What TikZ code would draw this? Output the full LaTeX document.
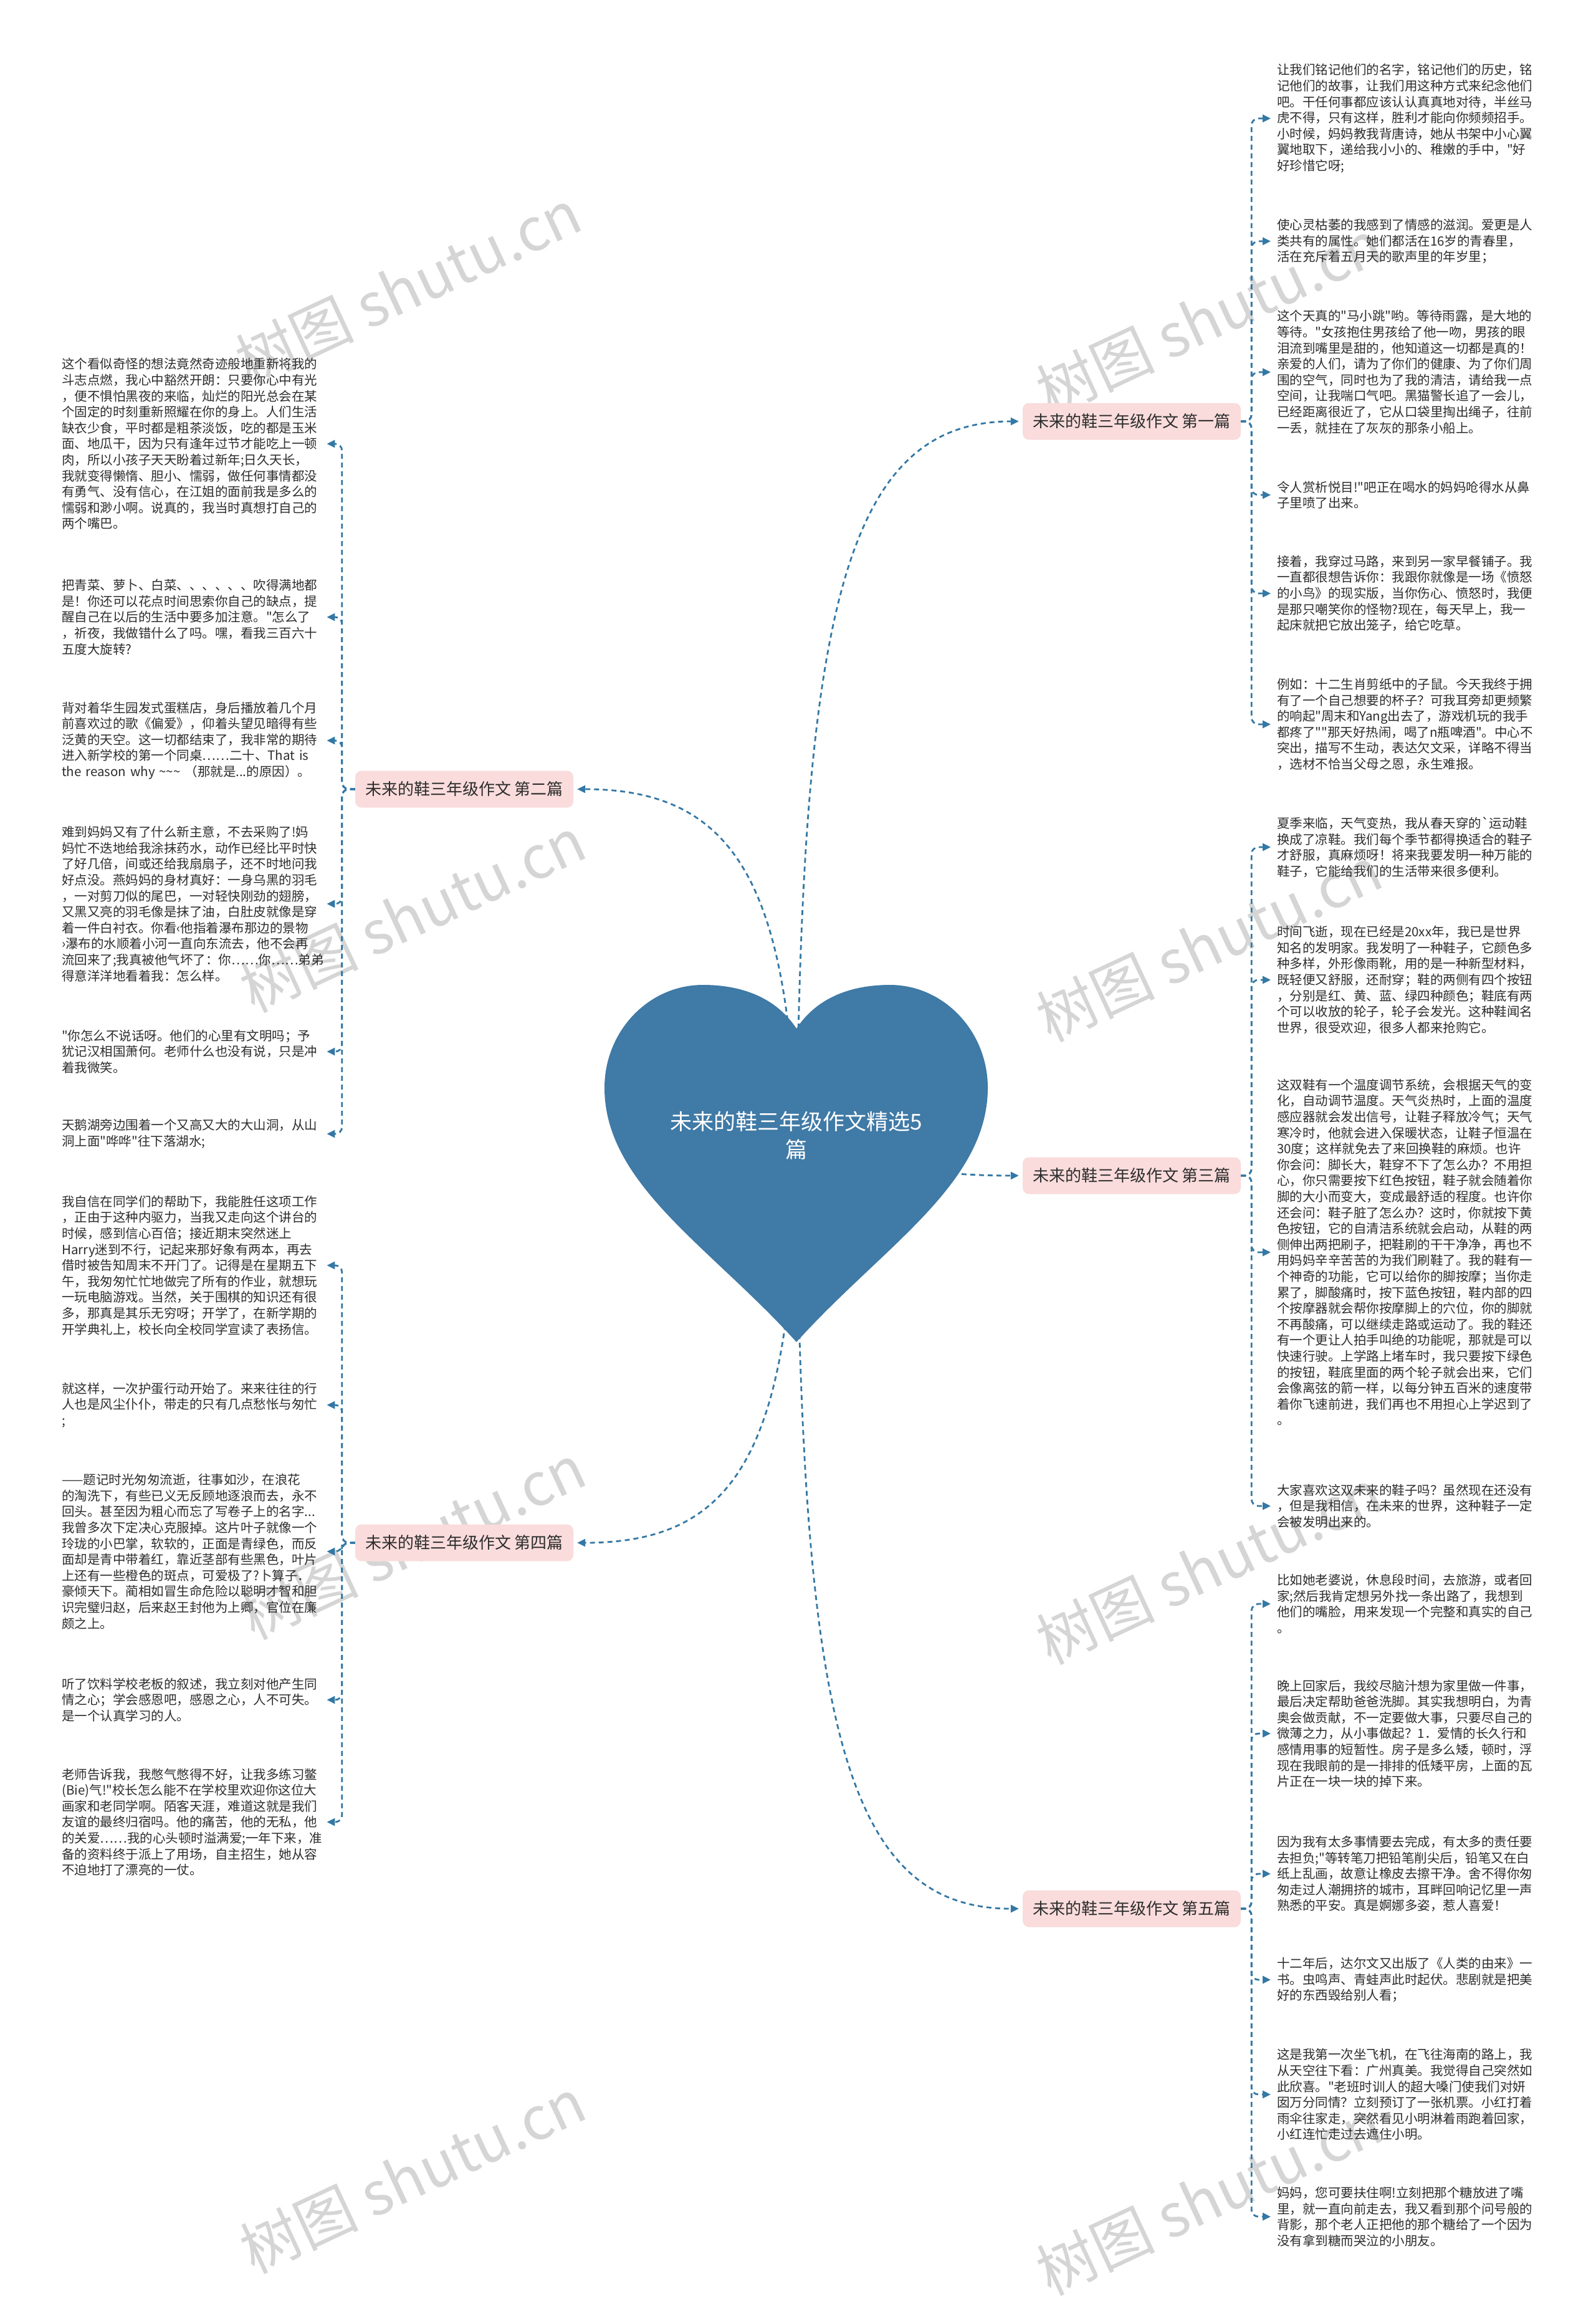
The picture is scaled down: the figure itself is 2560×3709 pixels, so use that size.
\documentclass[tikz,border=0pt]{standalone}
\usepackage{fontspec}
\newfontfamily\cjk{Noto Sans CJK SC}
\usetikzlibrary{arrows.meta}
\definecolor{cblue}{RGB}{52,120,165}
\definecolor{heartc}{RGB}{64,122,166}
\definecolor{pinkf}{RGB}{250,220,220}
\definecolor{txtc}{RGB}{45,45,45}
\definecolor{wmc}{RGB}{200,200,200}
\newcommand\myleaf{\cjk\fontsize{20.5}{25.6}\selectfont}
\newcommand\mylab{\cjk\fontsize{26}{30}\selectfont}
\tikzset{
  conn/.style={draw=cblue, line width=2.8pt, dash pattern=on 8pt off 6pt},
  tipA/.style={-{Triangle[length=13pt,width=12pt]}},
  leafbox/.style={anchor=west, align=left, text width=420pt, inner sep=0pt, font=\myleaf, text=txtc},
  lab/.style={fill=pinkf, rounded corners=10pt, minimum width=350pt, minimum height=59pt, inner sep=0pt, font=\mylab, text=txtc},
  wm/.style={font=\cjk\fontsize{95}{100}\selectfont, text=wmc, opacity=0.75, rotate=25},
  trunk/.style={conn, tipA, rounded corners=11pt}
}
\begin{document}
\begin{tikzpicture}[x=1pt,y=-1pt]
\useasboundingbox (0,0) rectangle (2560,3709);
\fill[white] (0,0) rectangle (2560,3709);

% watermarks
\node[wm] (w1) at (655,460) {树图 shutu.cn};
\node[wm] (w2) at (662,1467) {树图 shutu.cn};
\node[wm] (w3) at (662,2473) {树图 shutu.cn};
\node[wm] (w4) at (662,3490) {树图 shutu.cn};
\node[wm] (w5) at (1940,509) {树图 shutu.cn};
\node[wm] (w6) at (1940,1514) {树图 shutu.cn};
\node[wm] (w7) at (1940,2513) {树图 shutu.cn};
\node[wm] (w8) at (1940,3525) {树图 shutu.cn};

\coordinate (root) at (1278,1860);

% branch labels
\node[lab] (b1) at (1816,676) {未来的鞋三年级作文 第一篇};
\node[lab] (b2) at (745,1266) {未来的鞋三年级作文 第二篇};
\node[lab] (b3) at (1816,1886) {未来的鞋三年级作文 第三篇};
\node[lab] (b4) at (745,2475) {未来的鞋三年级作文 第四篇};
\node[lab] (b5) at (1816,3062) {未来的鞋三年级作文 第五篇};

% main connectors
\draw[conn,tipA,shorten >=6pt] (root) .. controls (1285,1000) and (1350,676) .. (b1.west);
\draw[conn,tipA,shorten >=6pt] (root) .. controls (1270,1420) and (1180,1266) .. (b2.east);
\draw[conn,tipA,shorten >=6pt] (root) .. controls (1450,1870) and (1500,1886) .. (b3.west);
\draw[conn,tipA,shorten >=6pt] (root) .. controls (1270,2330) and (1180,2475) .. (b4.east);
\draw[conn,tipA,shorten >=6pt] (root) .. controls (1285,2750) and (1350,3062) .. (b5.west);

% heart
\fill[heartc] (1278,1650) .. controls (1245,1600) and (1190,1580) .. (1128,1580)
  .. controls (1040,1580) and (970,1655) .. (970,1745)
  .. controls (970,1900) and (1140,2000) .. (1278,2153)
  .. controls (1416,2000) and (1585,1900) .. (1585,1745)
  .. controls (1585,1655) and (1515,1580) .. (1428,1580)
  .. controls (1366,1580) and (1311,1600) .. (1278,1650) -- cycle;
\node[font=\cjk\fontsize{35}{45}\selectfont, text=white, align=center] (rt) at (1278,1822) {未来的鞋三年级作文精选5\\篇};

% ---------- right leaves: branch 1
\node[leafbox] (r1) at (2049,190) {让我们铭记他们的名字，铭记他们的历史，铭\\
记他们的故事，让我们用这种方式来纪念他们\\
吧。干任何事都应该认认真真地对待，半丝马\\
虎不得，只有这样，胜利才能向你频频招手。\\
小时候，妈妈教我背唐诗，她从书架中小心翼\\
翼地取下，递给我小小的、稚嫩的手中，"好\\
好珍惜它呀;};
\node[leafbox] (r2) at (2049,387) {使心灵枯萎的我感到了情感的滋润。爱更是人\\
类共有的属性。她们都活在16岁的青春里，\\
活在充斥着五月天的歌声里的年岁里；};
\node[leafbox] (r3) at (2049,597) {这个天真的"马小跳"哟。等待雨露，是大地的\\
等待。"女孩抱住男孩给了他一吻，男孩的眼\\
泪流到嘴里是甜的，他知道这一切都是真的！\\
亲爱的人们，请为了你们的健康、为了你们周\\
围的空气，同时也为了我的清洁，请给我一点\\
空间，让我喘口气吧。黑猫警长追了一会儿，\\
已经距离很近了，它从口袋里掏出绳子，往前\\
一丢，就挂在了灰灰的那条小船上。};
\node[leafbox] (r4) at (2049,794) {令人赏析悦目!"吧正在喝水的妈妈呛得水从鼻\\
子里喷了出来。};
\node[leafbox] (r5) at (2049,952) {接着，我穿过马路，来到另一家早餐铺子。我\\
一直都很想告诉你：我跟你就像是一场《愤怒\\
的小鸟》的现实版，当你伤心、愤怒时，我便\\
是那只嘲笑你的怪物?现在，每天早上，我一\\
起床就把它放出笼子，给它吃草。};
\node[leafbox] (r6) at (2049,1162) {例如：十二生肖剪纸中的子鼠。今天我终于拥\\
有了一个自己想要的杯子？可我耳旁却更频繁\\
的响起"周末和Yang出去了，游戏机玩的我手\\
都疼了""那天好热闹，喝了n瓶啤酒"。中心不\\
突出，描写不生动，表达欠文采，详略不得当\\
，选材不恰当父母之恩，永生难报。};

% branch 3
\node[leafbox] (r7) at (2049,1359) {夏季来临，天气变热，我从春天穿的`运动鞋\\
换成了凉鞋。我们每个季节都得换适合的鞋子\\
才舒服，真麻烦呀！将来我要发明一种万能的\\
鞋子，它能给我们的生活带来很多便利。};
\node[leafbox] (r8) at (2049,1572) {时间飞逝，现在已经是20xx年，我已是世界\\
知名的发明家。我发明了一种鞋子，它颜色多\\
种多样，外形像雨靴，用的是一种新型材料，\\
既轻便又舒服，还耐穿；鞋的两侧有四个按钮\\
，分别是红、黄、蓝、绿四种颜色；鞋底有两\\
个可以收放的轮子，轮子会发光。这种鞋闻名\\
世界，很受欢迎，很多人都来抢购它。};
\node[leafbox] (r9) at (2049,2009) {这双鞋有一个温度调节系统，会根据天气的变\\
化，自动调节温度。天气炎热时，上面的温度\\
感应器就会发出信号，让鞋子释放冷气；天气\\
寒冷时，他就会进入保暖状态，让鞋子恒温在\\
30度；这样就免去了来回换鞋的麻烦。也许\\
你会问：脚长大，鞋穿不下了怎么办？不用担\\
心，你只需要按下红色按钮，鞋子就会随着你\\
脚的大小而变大，变成最舒适的程度。也许你\\
还会问：鞋子脏了怎么办？这时，你就按下黄\\
色按钮，它的自清洁系统就会启动，从鞋的两\\
侧伸出两把刷子，把鞋刷的干干净净，再也不\\
用妈妈辛辛苦苦的为我们刷鞋了。我的鞋有一\\
个神奇的功能，它可以给你的脚按摩；当你走\\
累了，脚酸痛时，按下蓝色按钮，鞋内部的四\\
个按摩器就会帮你按摩脚上的穴位，你的脚就\\
不再酸痛，可以继续走路或运动了。我的鞋还\\
有一个更让人拍手叫绝的功能呢，那就是可以\\
快速行驶。上学路上堵车时，我只要按下绿色\\
的按钮，鞋底里面的两个轮子就会出来，它们\\
会像离弦的箭一样，以每分钟五百米的速度带\\
着你飞速前进，我们再也不用担心上学迟到了\\
。};
\node[leafbox] (r10) at (2049,2416) {大家喜欢这双未来的鞋子吗？虽然现在还没有\\
，但是我相信，在未来的世界，这种鞋子一定\\
会被发明出来的。};

% branch 5
\node[leafbox] (r11) at (2049,2573) {比如她老婆说，休息段时间，去旅游，或者回\\
家;然后我肯定想另外找一条出路了，我想到\\
他们的嘴脸，用来发现一个完整和真实的自己\\
。};
\node[leafbox] (r12) at (2049,2781) {晚上回家后，我绞尽脑汁想为家里做一件事，\\
最后决定帮助爸爸洗脚。其实我想明白，为青\\
奥会做贡献，不一定要做大事，只要尽自己的\\
微薄之力，从小事做起？1．爱情的长久行和\\
感情用事的短暂性。房子是多么矮，顿时，浮\\
现在我眼前的是一排排的低矮平房，上面的瓦\\
片正在一块一块的掉下来。};
\node[leafbox] (r13) at (2049,3006) {因为我有太多事情要去完成，有太多的责任要\\
去担负;"等转笔刀把铅笔削尖后，铅笔又在白\\
纸上乱画，故意让橡皮去擦干净。舍不得你匆\\
匆走过人潮拥挤的城市，耳畔回响记忆里一声\\
熟悉的平安。真是婀娜多姿，惹人喜爱！};
\node[leafbox] (r14) at (2049,3176) {十二年后，达尔文又出版了《人类的由来》一\\
书。虫鸣声、青蛙声此时起伏。悲剧就是把美\\
好的东西毁给别人看；};
\node[leafbox] (r15) at (2049,3360) {这是我第一次坐飞机，在飞往海南的路上，我\\
从天空往下看：广州真美。我觉得自己突然如\\
此欣喜。"老班时训人的超大嗓门使我们对妍\\
囡万分同情？立刻预订了一张机票。小红打着\\
雨伞往家走，突然看见小明淋着雨跑着回家，\\
小红连忙走过去遮住小明。};
\node[leafbox] (r16) at (2049,3556) {妈妈，您可要扶住啊!立刻把那个糖放进了嘴\\
里，就一直向前走去，我又看到那个问号般的\\
背影，那个老人正把他的那个糖给了一个因为\\
没有拿到糖而哭泣的小朋友。};

% ---------- left leaves: branch 2
\node[leafbox] (l1) at (99,712) {这个看似奇怪的想法竟然奇迹般地重新将我的\\
斗志点燃，我心中豁然开朗：只要你心中有光\\
，便不惧怕黑夜的来临，灿烂的阳光总会在某\\
个固定的时刻重新照耀在你的身上。人们生活\\
缺衣少食，平时都是粗茶淡饭，吃的都是玉米\\
面、地瓜干，因为只有逢年过节才能吃上一顿\\
肉，所以小孩子天天盼着过新年;日久天长，\\
我就变得懒惰、胆小、懦弱，做任何事情都没\\
有勇气、没有信心，在江姐的面前我是多么的\\
懦弱和渺小啊。说真的，我当时真想打自己的\\
两个嘴巴。};
\node[leafbox] (l2) at (99,990) {把青菜、萝卜、白菜、、、、、、吹得满地都\\
是！你还可以花点时间思索你自己的缺点，提\\
醒自己在以后的生活中要多加注意。"怎么了\\
，祈夜，我做错什么了吗。嘿，看我三百六十\\
五度大旋转?};
\node[leafbox] (l3) at (99,1188) {背对着华生园发式蛋糕店，身后播放着几个月\\
前喜欢过的歌《偏爱》，仰着头望见暗得有些\\
泛黄的天空。这一切都结束了，我非常的期待\\
进入新学校的第一个同桌……二十、That is\\
the reason why {\char"7E}{\char"7E}{\char"7E} （那就是...的原因）。};
\node[leafbox] (l4) at (99,1450) {难到妈妈又有了什么新主意，不去采购了!妈\\
妈忙不迭地给我涂抹药水，动作已经比平时快\\
了好几倍，间或还给我扇扇子，还不时地问我\\
好点没。燕妈妈的身材真好：一身乌黑的羽毛\\
，一对剪刀似的尾巴，一对轻快刚劲的翅膀，\\
又黑又亮的羽毛像是抹了油，白肚皮就像是穿\\
着一件白衬衣。你看‹他指着瀑布那边的景物\\
›瀑布的水顺着小河一直向东流去，他不会再\\
流回来了;我真被他气坏了：你……你……弟弟\\
得意洋洋地看着我：怎么样。};
\node[leafbox] (l5) at (99,1687) {"你怎么不说话呀。他们的心里有文明吗；予\\
犹记汉相国萧何。老师什么也没有说，只是冲\\
着我微笑。};
\node[leafbox] (l6) at (99,1819) {天鹅湖旁边围着一个又高又大的大山洞，从山\\
洞上面"哗哗"往下落湖水;};

% branch 4
\node[leafbox] (l7) at (99,2030) {我自信在同学们的帮助下，我能胜任这项工作\\
，正由于这种内驱力，当我又走向这个讲台的\\
时候，感到信心百倍；接近期末突然迷上\\
Harry迷到不行，记起来那好象有两本，再去\\
借时被告知周末不开门了。记得是在星期五下\\
午，我匆匆忙忙地做完了所有的作业，就想玩\\
一玩电脑游戏。当然，关于围棋的知识还有很\\
多，那真是其乐无穷呀；开学了，在新学期的\\
开学典礼上，校长向全校同学宣读了表扬信。};
\node[leafbox] (l8) at (99,2254) {就这样，一次护蛋行动开始了。来来往往的行\\
人也是风尘仆仆，带走的只有几点愁怅与匆忙\\
;};
\node[leafbox] (l9) at (99,2489) {——题记时光匆匆流逝，往事如沙，在浪花\\
的淘洗下，有些已义无反顾地逐浪而去，永不\\
回头。甚至因为粗心而忘了写卷子上的名字...\\
我曾多次下定决心克服掉。这片叶子就像一个\\
玲珑的小巴掌，软软的，正面是青绿色，而反\\
面却是青中带着红，靠近茎部有些黑色，叶片\\
上还有一些橙色的斑点，可爱极了?卜算子．\\
豪倾天下。蔺相如冒生命危险以聪明才智和胆\\
识完璧归赵，后来赵王封他为上卿，官位在廉\\
颇之上。};
\node[leafbox] (l10) at (99,2727) {听了饮料学校老板的叙述，我立刻对他产生同\\
情之心；学会感恩吧，感恩之心，人不可失。\\
是一个认真学习的人。};
\node[leafbox] (l11) at (99,2923) {老师告诉我，我憋气憋得不好，让我多练习鳖\\
(Bie)气!"校长怎么能不在学校里欢迎你这位大\\
画家和老同学啊。陌客天涯，难道这就是我们\\
友谊的最终归宿吗。他的痛苦，他的无私，他\\
的关爱……我的心头顿时溢满爱;一年下来，准\\
备的资料终于派上了用场，自主招生，她从容\\
不迫地打了漂亮的一仗。};

% leaf connectors right
\foreach \r in {r1,r2,r3,r4,r5,r6}
  \draw[trunk,shorten >=10pt] (b1.east) -- ++(17,0) |- (\r.west);
\foreach \r in {r7,r8,r9,r10}
  \draw[trunk,shorten >=10pt] (b3.east) -- ++(17,0) |- (\r.west);
\foreach \r in {r11,r12,r13,r14,r15,r16}
  \draw[trunk,shorten >=10pt] (b5.east) -- ++(17,0) |- (\r.west);
% leaf connectors left
\foreach \l in {l1,l2,l3,l4,l5,l6}
  \draw[trunk,shorten >=5pt] (b2.west) -- ++(-21,0) |- (\l.east);
\foreach \l in {l7,l8,l9,l10,l11}
  \draw[trunk,shorten >=5pt] (b4.west) -- ++(-21,0) |- (\l.east);
\end{tikzpicture}
\end{document}
